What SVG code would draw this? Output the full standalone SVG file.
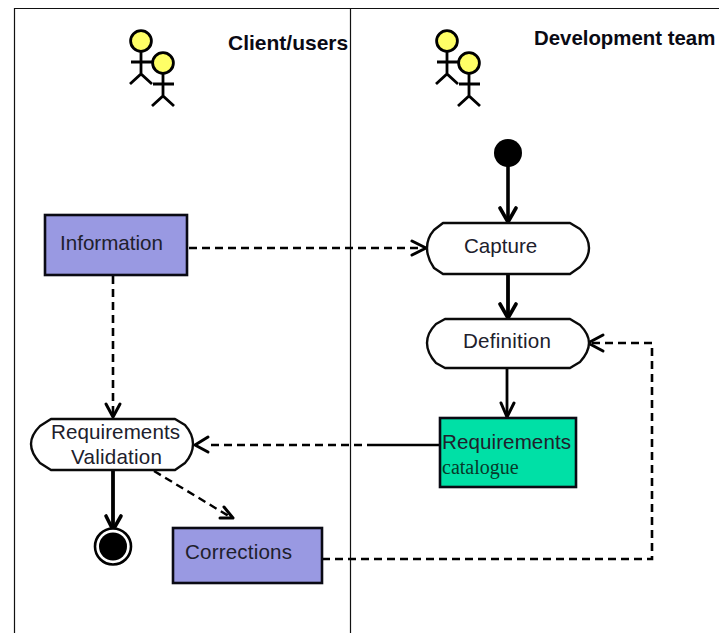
<svg xmlns="http://www.w3.org/2000/svg" width="719" height="633" viewBox="0 0 719 633">
<style>
.lane{fill:none;stroke:#111;stroke-width:1.2}
.box{stroke:#0a0a14;stroke-width:2.6}
.pill{fill:#fff;stroke:#0a0a0a;stroke-width:2.4;stroke-linejoin:round}
.t{font-family:"Liberation Sans",Arial,sans-serif;font-size:20.6px;fill:#20202c}
.h{font-family:"Liberation Sans",Arial,sans-serif;font-size:21px;font-weight:bold;fill:#0a0a14}
.s{font-family:"Liberation Serif","Times New Roman",serif;font-size:20px;fill:#063a2a}
.c{fill:none;stroke:#000}
.d{stroke-dasharray:8 5}
.a{fill:none;stroke:#000;stroke-linecap:round;stroke-linejoin:round}
.stick{fill:none;stroke:#000;stroke-width:2.8}
.head{fill:#ffff66;stroke:#000;stroke-width:2.8}
</style>
<defs>
<g id="person">
<path class="stick" d="M0,10V33M-10,21H11M-11,43L0,33L11,43"/>
<circle class="head" cx="0" cy="0" r="10.4"/>
</g>
<g id="actors">
<use href="#person" x="0" y="0"/>
<use href="#person" x="22" y="22"/>
</g>
</defs>
<rect width="719" height="633" fill="#fff"/>
<g id="lanes">
<path class="lane" d="M14.500,633V8.500H719"/>
<path class="lane" d="M350.500,8V633"/>
</g>
<g id="actor-client"><use href="#actors" x="141" y="41"/></g>
<g id="actor-team"><use href="#actors" x="447" y="41"/></g>
<g id="label-client"><text class="h" x="228" y="50">Client/users</text></g>
<g id="label-team"><text class="h" x="534" y="44.500" style="font-size:20.400px">Development team</text></g>
<g id="connectors">
<path class="c" stroke-width="3.6" d="M508,165V222"/>
<path class="a" stroke-width="3.6" d="M500,208L508,222L516,208"/>
<path class="c" stroke-width="3.8" d="M508,274V318"/>
<path class="a" stroke-width="3.6" d="M500,304L508,318L516,304"/>
<path class="c" stroke-width="2.8" d="M507,368V417"/>
<path class="a" stroke-width="3" d="M501,403L507,417L514,403"/>
<path class="c d" stroke-width="2.6" d="M189,248H426"/>
<path class="a" stroke-width="3" d="M412,241L426,248L412,255"/>
<path class="c d" stroke-width="2.6" d="M113,276V417"/>
<path class="a" stroke-width="3" d="M106,404L113,417L120,404"/>
<path class="c" stroke-width="2.6" d="M440,445H375"/>
<path class="c d" stroke-width="2.6" d="M375,445H208"/>
<path class="a" stroke-width="3" d="M208,437L195,445L208,452"/>
<path class="c" stroke-width="3.8" d="M113,470V530"/>
<path class="a" stroke-width="3.6" d="M106,516L113,530L121,516"/>
<path class="c d" stroke-width="2.4" d="M154,471L232,518"/>
<path class="a" stroke-width="3" d="M224,507L233,518L220,518"/>
<path class="c d" stroke-width="2.6" d="M322,559H652V343H586"/>
<path class="a" stroke-width="3" d="M603,335L588,343L603,351"/>
</g>
<g id="start"><circle cx="508" cy="153" r="14" fill="#000"/></g>
<g id="information"><rect class="box" x="45" y="215" width="142" height="60" fill="#9999e2"/><text class="t" x="60" y="250">Information</text></g>
<g id="capture"><path class="pill" d="M443,223H570L580,229Q589,238 589,248Q589,258 580,267L570,274H443L434,268Q427,258 427,248Q427,238 434,230Z"/><text class="t" x="464" y="253">Capture</text></g>
<g id="definition"><path class="pill" d="M445,319H570L580,325Q589,334 589,343Q589,352 580,362L570,368H445L436,363Q427,353 427,343Q427,333 436,324Z"/><text class="t" x="463" y="348" textLength="88">Definition</text></g>
<g id="requirements-catalogue"><rect class="box" x="440" y="418" width="136" height="69" fill="#00e0a6"/><text class="t" x="442" y="449" textLength="129">Requirements</text><text class="s" x="442" y="474">catalogue</text></g>
<g id="requirements-validation"><path class="pill" d="M51,419H175L185,425Q193,434 193,444Q193,454 185,463L175,470H51L40,463Q31,453 31,444Q31,435 40,426Z"/><text class="t" x="51" y="439" textLength="129">Requirements</text><text class="t" x="71" y="464" textLength="91">Validation</text></g>
<g id="end"><circle cx="113" cy="546.500" r="18" fill="#fff" stroke="#000" stroke-width="2.6"/><circle cx="113" cy="546.500" r="14" fill="#000"/></g>
<g id="corrections"><rect class="box" x="173" y="528" width="149" height="55" fill="#9999e2"/><text class="t" x="185" y="559" textLength="107">Corrections</text></g>
</svg>
